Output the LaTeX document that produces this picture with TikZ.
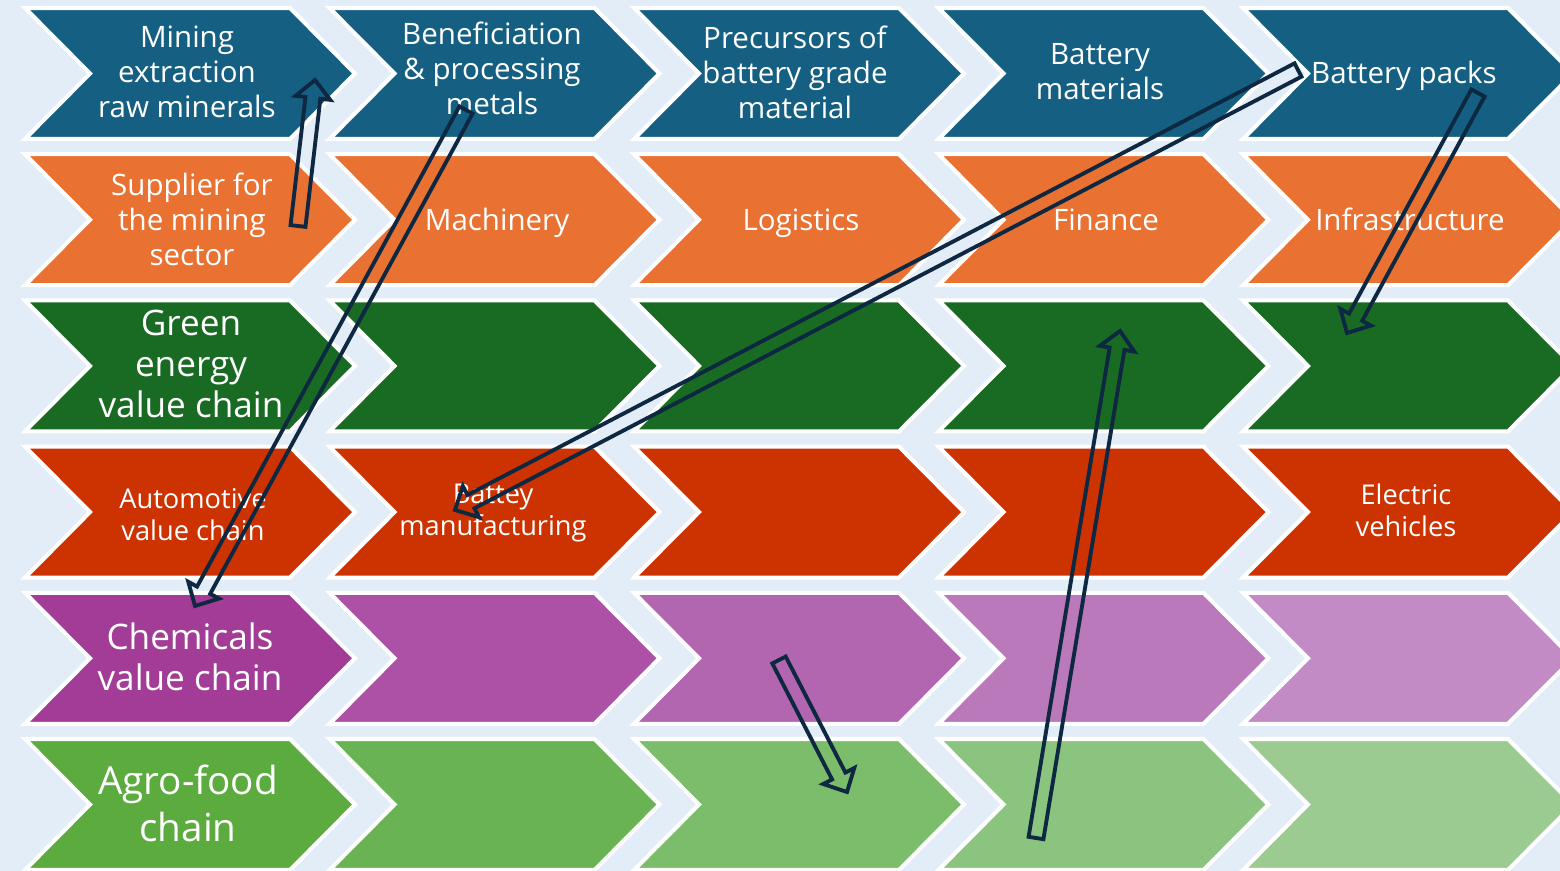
\documentclass[tikz,border=0pt]{standalone}
\usepackage{fontspec}
\setmainfont{Open Sans}
\usetikzlibrary{calc}

\definecolor{sky}{HTML}{E3EDF7}
\definecolor{tealA}{HTML}{156082}
\definecolor{orangeA}{HTML}{E97132}
\definecolor{greenA}{HTML}{196B24}
\definecolor{redA}{HTML}{CC3300}
\definecolor{purpA}{HTML}{A33C97}
\definecolor{purpB}{HTML}{AC51A5}
\definecolor{purpC}{HTML}{B366B0}
\definecolor{purpD}{HTML}{BA79BB}
\definecolor{purpE}{HTML}{C28BC5}
\definecolor{leafA}{HTML}{5BAB3F}
\definecolor{leafB}{HTML}{6AB354}
\definecolor{leafC}{HTML}{7BBD6B}
\definecolor{leafD}{HTML}{8BC47F}
\definecolor{leafE}{HTML}{9CCB91}
\definecolor{navy}{HTML}{0E2841}

% hollow block arrow from #1 (tail) to #2 (tip)
\newcommand\blockarrow[2]{%
  \coordinate (ba-base) at ($(#2)!0.36cm!(#1)$);
  \draw[hollow] ($(#1)!0.15cm!90:(#2)$) -- ($(ba-base)!0.15cm!-90:(#1)$)
    -- ($(ba-base)!0.35cm!-90:(#1)$) -- (#2) -- ($(ba-base)!0.35cm!90:(#1)$)
    -- ($(ba-base)!0.15cm!90:(#1)$) -- ($(#1)!0.15cm!-90:(#2)$) -- cycle;
}

\begin{document}
\begin{tikzpicture}
    [ x=0.02cm, y=-0.02cm,
      chev/.style={draw=white, line width=2.3pt, line join=miter},
      lbl/.style={text=white, align=center, inner sep=0pt},
      one/.style={anchor=base},
      hollow/.style={draw=navy, line width=2.2pt, line join=miter},
    ]
    \useasboundingbox (0,0) rectangle (1560,871);
    \clip (0,0) rectangle (1560,871);
    \fill[sky] (0,0) rectangle (1560,871);

    % rows with one colour
    \foreach \r / \col in {0/tealA, 1/orangeA, 2/greenA, 3/redA} {
        \foreach \c in {0,...,4} {
            \begin{scope}[shift={(25+304.5*\c, 8+146.2*\r)}]
                \draw[chev, fill=\col] (0,0) -- (265,0) -- (330,65.5)
                    -- (265,131) -- (0,131) -- (65,65.5) -- cycle;
            \end{scope}
        }
    }
    % rows fading to the right
    \foreach \c / \pcol / \gcol in {0/purpA/leafA, 1/purpB/leafB, 2/purpC/leafC,
                                     3/purpD/leafD, 4/purpE/leafE} {
        \begin{scope}[shift={(25+304.5*\c, 8+146.2*4)}]
            \draw[chev, fill=\pcol] (0,0) -- (265,0) -- (330,65.5)
                -- (265,131) -- (0,131) -- (65,65.5) -- cycle;
        \end{scope}
        \begin{scope}[shift={(25+304.5*\c, 8+146.2*5)}]
            \draw[chev, fill=\gcol] (0,0) -- (265,0) -- (330,65.5)
                -- (265,131) -- (0,131) -- (65,65.5) -- cycle;
        \end{scope}
    }

    \begin{scope}[lbl, font=\fontsize{16.8}{19.9}\selectfont]
        \node (mining) at (187,72) {Mining\\extraction\\raw minerals};
        \node (benef) at (492,68) {Beneficiation\\\& processing\\metals};
        \node (precursor) at (795,72) {Precursors of\\battery grade\\material};
        \node (batmat) at (1100,72) {Battery\\materials};
        \node[one] (packs) at (1404,84) {Battery packs};
        \node (supplier) at (192,219) {Supplier for\\the mining\\sector};
        \node[one] (machinery) at (497,231) {Machinery};
        \node[one] (logistics) at (801,231) {Logistics};
        \node[one] (finance) at (1106,231) {Finance};
        \node[one] (infra) at (1410,231) {Infrastructure};
    \end{scope}
    \node[lbl, font=\fontsize{20}{23.3}\selectfont] (green) at (191,364)
        {Green\\energy\\value chain};
    \begin{scope}[lbl, font=\fontsize{15.5}{18.2}\selectfont]
        \node (auto) at (193,515) {Automotive\\value chain};
        \node (batman) at (493,513) {Battey\\manufacturing};
        \node (ev) at (1406,510) {Electric\\vehicles};
    \end{scope}
    \node[lbl, font=\fontsize{20}{23.3}\selectfont] (chem) at (190,657)
        {Chemicals\\value chain};
    \node[lbl, font=\fontsize{22}{26.7}\selectfont] (agro) at (188,803)
        {Agro-food\\chain};

    % arrow ends
    \coordinate (supply-tail) at (298,226);
    \coordinate (supply-tip) at (315,80);
    \coordinate (metal-tail) at (466,110);
    \coordinate (metal-tip) at (195,606);
    \coordinate (pack-tail) at (1298,70);
    \coordinate (pack-tip) at (455,510);
    \coordinate (infra-tail) at (1478,93);
    \coordinate (infra-tip) at (1347,333);
    \coordinate (chem-tail) at (779,660);
    \coordinate (chem-tip) at (847,792);
    \coordinate (agro-tail) at (1036,838);
    \coordinate (agro-tip) at (1120,331);

    \blockarrow{supply-tail}{supply-tip}
    \blockarrow{metal-tail}{metal-tip}
    \blockarrow{pack-tail}{pack-tip}
    \blockarrow{infra-tail}{infra-tip}
    \blockarrow{chem-tail}{chem-tip}
    \blockarrow{agro-tail}{agro-tip}
\end{tikzpicture}
\end{document}
